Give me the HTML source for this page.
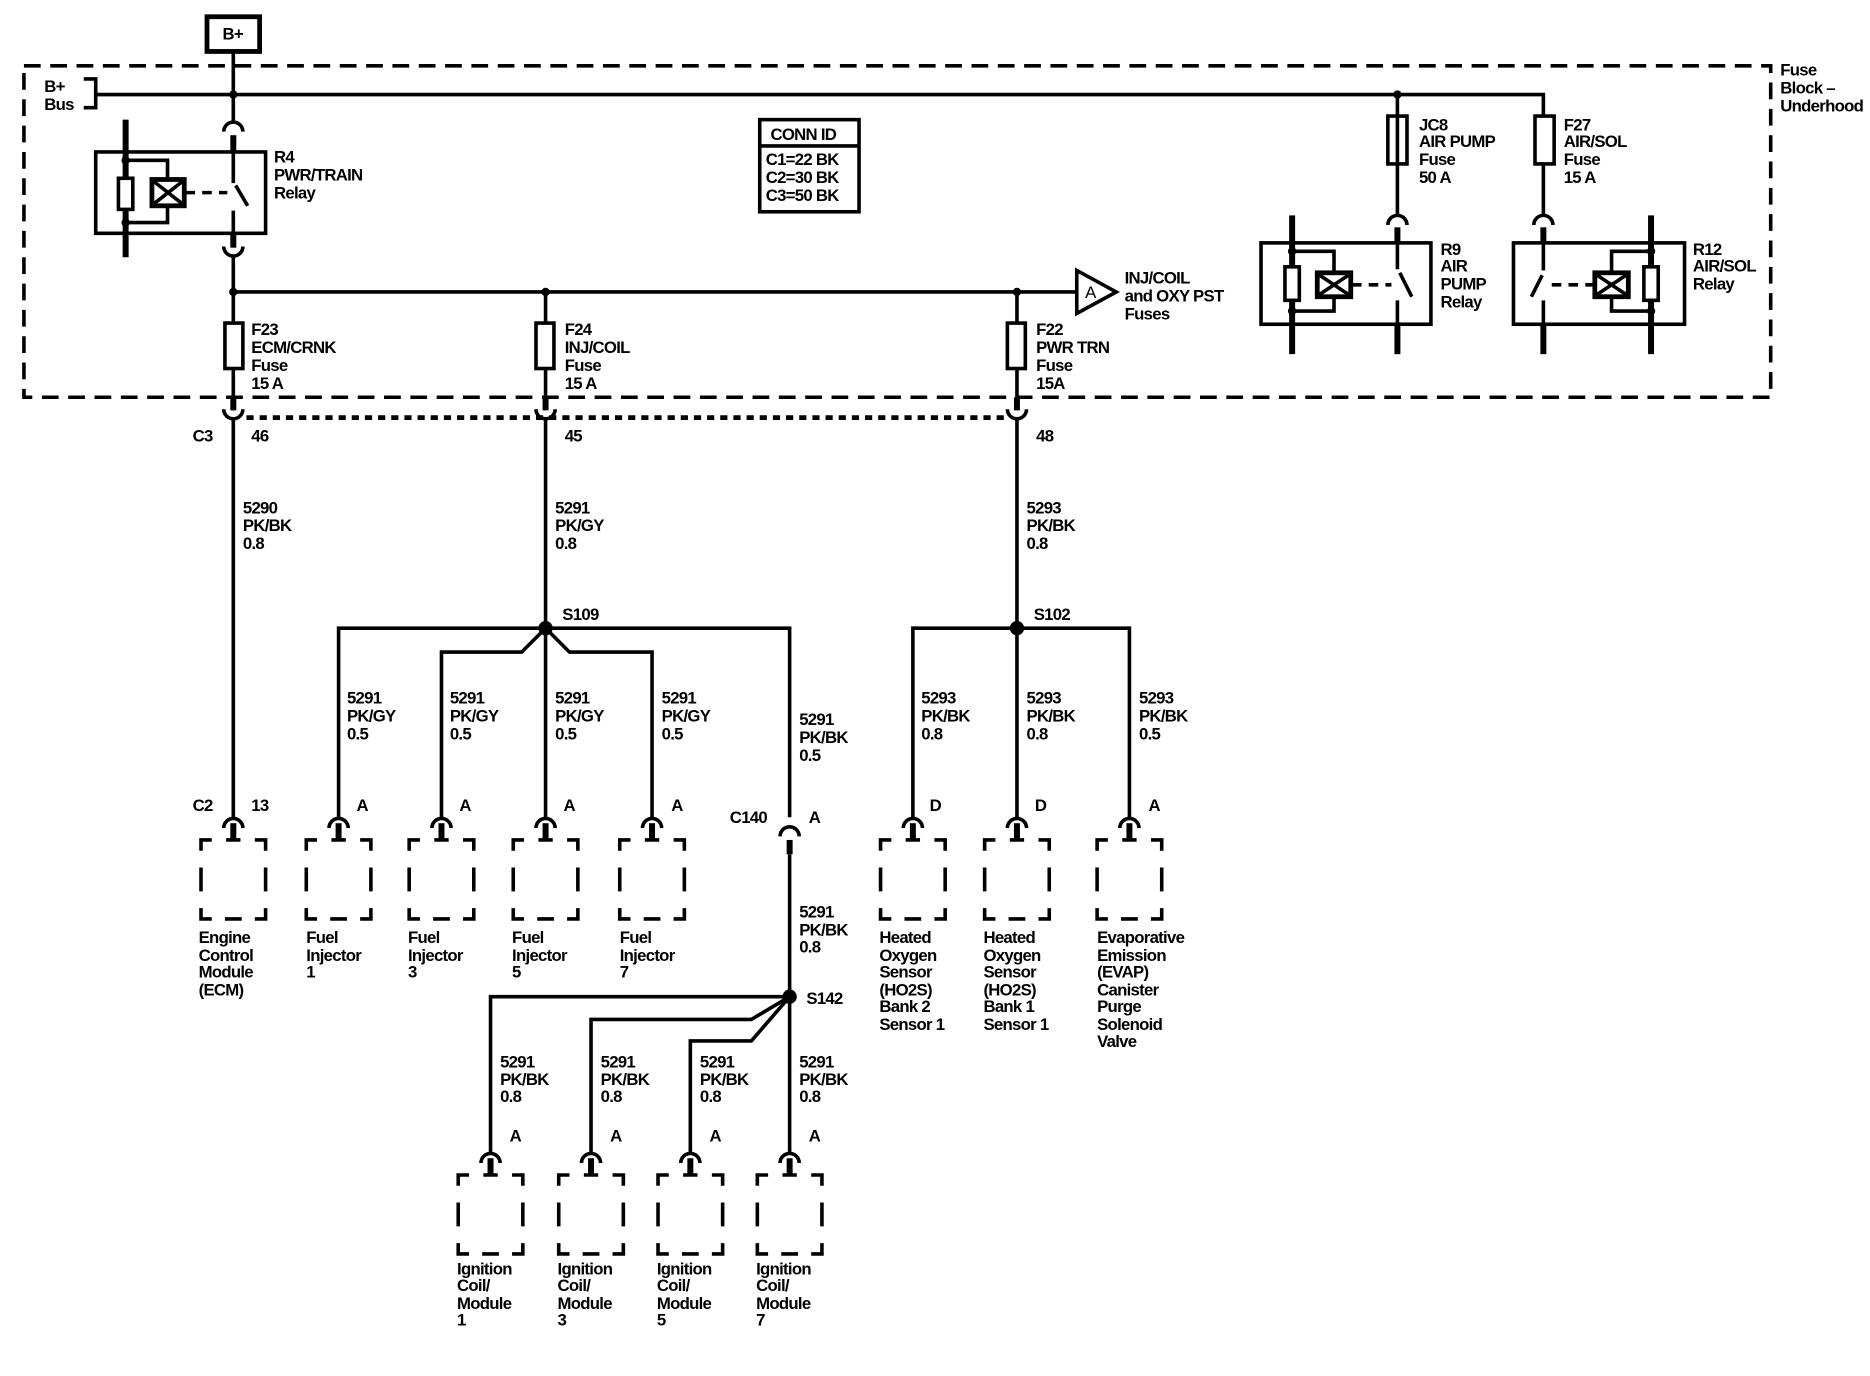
<!DOCTYPE html>
<html><head><meta charset="utf-8"><style>
html,body{margin:0;padding:0;background:#fff;}
svg{display:block;}
text{font-family:"Liberation Sans",Arial,sans-serif;font-size:14px;font-weight:bold;letter-spacing:-0.6px;fill:#000;}
</style></head><body>
<svg width="1870" height="1376" viewBox="0 0 1563 1150" preserveAspectRatio="none" xmlns="http://www.w3.org/2000/svg">
<defs>
<g id="dev">
 <path d="M-8,9 A8,8 0 0 1 8,9" fill="none" stroke="#000" stroke-width="3"/>
 <line x1="0" y1="5" x2="0" y2="19" stroke="#000" stroke-width="5"/>
 <path d="M-27,28 V19 H-18 M-6,19 H6 M18,19 H27 V28 M-27,42 V62 M27,42 V62 M-27,76 V85 H-18 M-7,85 H7 M18,85 H27 V76" fill="none" stroke="#000" stroke-width="3"/>
</g>
<g id="c3">
 <line x1="0" y1="332" x2="0" y2="343" stroke="#000" stroke-width="5"/>
 <path d="M-8,342 A8,8 0 0 0 8,342" fill="none" stroke="#000" stroke-width="3"/>
</g>
</defs>
<g fill="none" stroke="#000" stroke-width="3">
 <!-- fuse block border -->
 <rect x="20" y="55" width="1460" height="277" stroke-dasharray="14 8"/>
 <!-- B+ box -->
 <rect x="173" y="14" width="44" height="29" stroke-width="4"/>
 <!-- bus -->
 <path d="M195,44 V102"/>
 <path d="M80,79 H1290 V97"/>
 <path d="M70,66 H80 V90 H70"/>
 <path d="M1168,79 V180"/>
 <path d="M1290,137 V180"/>
 <rect x="1160" y="97" width="16" height="40"/>
 <rect x="1283" y="97" width="16" height="40"/>
 <!-- R4 -->
 <path d="M187,110 A8,8 0 0 1 203,110"/>
 <line x1="195" y1="113" x2="195" y2="127" stroke-width="5"/>
 <rect x="80" y="127" width="142" height="68"/>
 <line x1="105" y1="100" x2="105" y2="215" stroke-width="5"/>
 <rect x="99" y="149" width="12" height="26" fill="#fff"/>
 <path d="M105,134 H140 V150 M140,172 V186 H105"/>
 <rect x="127" y="150" width="27" height="22" stroke-width="4"/>
 <path d="M129,152 L152,170 M152,152 L129,170"/>
 <path d="M155,161 H190" stroke-dasharray="8 6"/>
 <path d="M195,127 V153 M197,155 L207,172 M195,176 V195"/>
 <line x1="195" y1="195" x2="195" y2="207" stroke-width="5"/>
 <path d="M187,206 A8,8 0 0 0 203,206"/>
 <path d="M195,214 V244 H900"/>
 <path d="M900,226 L933,244 L900,262 Z"/>
 <!-- fuses -->
 <path d="M195,244 V332 M456,244 V332 M850,244 V332"/>
 <rect x="188" y="270" width="15" height="38" fill="#fff"/>
 <rect x="448" y="270" width="15" height="38" fill="#fff"/>
 <rect x="842" y="270" width="15" height="38" fill="#fff"/>
 <!-- CONN ID -->
 <rect x="635" y="100" width="83" height="77" stroke-width="3"/>
 <line x1="635" y1="122" x2="718" y2="122"/>
 <!-- R9 -->
 <path d="M1160,188 A8,8 0 0 1 1176,188"/>
 <line x1="1168" y1="190" x2="1168" y2="203" stroke-width="5"/>
 <rect x="1054" y="203" width="142" height="68"/>
 <line x1="1080" y1="180" x2="1080" y2="296" stroke-width="5"/>
 <rect x="1074" y="223" width="12" height="28" fill="#fff"/>
 <path d="M1080,210 H1115 V228 M1115,248 V260 H1080"/>
 <rect x="1101" y="228" width="28" height="20" stroke-width="4"/>
 <path d="M1103,230 L1127,246 M1127,230 L1103,246"/>
 <path d="M1130,238 H1163" stroke-dasharray="8 6"/>
 <path d="M1168,203 V225 M1170,228 L1180,248 M1168,251 V271"/>
 <line x1="1168" y1="271" x2="1168" y2="296" stroke-width="5"/>
 <!-- R12 -->
 <path d="M1282,188 A8,8 0 0 1 1298,188"/>
 <line x1="1290" y1="190" x2="1290" y2="203" stroke-width="5"/>
 <rect x="1265" y="203" width="143" height="68"/>
 <line x1="1380" y1="180" x2="1380" y2="296" stroke-width="5"/>
 <rect x="1374" y="223" width="12" height="28" fill="#fff"/>
 <path d="M1380,210 H1347 V228 M1347,248 V260 H1380"/>
 <rect x="1333" y="228" width="28" height="20" stroke-width="4"/>
 <path d="M1335,230 L1359,246 M1359,230 L1335,246"/>
 <path d="M1333,238 H1297" stroke-dasharray="8 6"/>
 <path d="M1290,203 V226 M1289,230 L1280,248 M1290,251 V271"/>
 <line x1="1290" y1="271" x2="1290" y2="296" stroke-width="5"/>
 <!-- C3 dotted -->
 <path d="M206,349 H840" stroke-width="4" stroke-dasharray="6 5"/>
 <!-- mains down -->
 <path d="M195,350 V683"/>
 <path d="M456,350 V683"/>
 <path d="M850,350 V683"/>
 <!-- S109 -->
 <path d="M283,683 V525 H660 V683"/>
 <path d="M369,683 V545 H436 L456,525 L476,545 H545 V683"/>
 <!-- S102 -->
 <path d="M763,683 V525 H944 V683"/>
 <!-- C140 -->
 <path d="M652,699 A8,8 0 0 1 668,699"/>
 <line x1="660" y1="702" x2="660" y2="714" stroke-width="5"/>
 <path d="M660,714 V963"/>
 <!-- S142 -->
 <path d="M410,963 V833 H660"/>
 <path d="M494,963 V852 H628 L660,833"/>
 <path d="M577,963 V870 H628 L660,833"/>
</g>
<use href="#c3" x="195"/><use href="#c3" x="456"/><use href="#c3" x="850"/>
<g fill="#000">
 <circle cx="195" cy="79" r="3.5"/><circle cx="1168" cy="79" r="3.5"/>
 <circle cx="195" cy="244" r="3.5"/><circle cx="456" cy="244" r="3.5"/><circle cx="850" cy="244" r="3.5"/>
 <circle cx="105" cy="134" r="3.5"/><circle cx="105" cy="186" r="3.5"/>
 <circle cx="1080" cy="210" r="3.5"/><circle cx="1080" cy="260" r="3.5"/>
 <circle cx="1380" cy="210" r="3.5"/><circle cx="1380" cy="260" r="3.5"/>
 <circle cx="456" cy="525" r="6"/><circle cx="850" cy="525" r="6"/><circle cx="660" cy="833" r="6"/>
</g>
<use href="#dev" x="195" y="683"/><use href="#dev" x="283" y="683"/><use href="#dev" x="369" y="683"/>
<use href="#dev" x="456" y="683"/><use href="#dev" x="545" y="683"/>
<use href="#dev" x="763" y="683"/><use href="#dev" x="850" y="683"/><use href="#dev" x="944" y="683"/>
<use href="#dev" x="410" y="963"/><use href="#dev" x="494" y="963"/><use href="#dev" x="577" y="963"/><use href="#dev" x="660" y="963"/>

<text x="186" y="33">B+</text>
<text x="37" y="77">B+</text><text x="37" y="92">Bus</text>
<text x="229" y="136">R4</text><text x="229" y="151">PWR/TRAIN</text><text x="229" y="166">Relay</text>
<text x="644" y="117">CONN ID</text>
<text x="640" y="138">C1=22 BK</text><text x="640" y="153">C2=30 BK</text><text x="640" y="168">C3=50 BK</text>
<text x="1186" y="109">JC8</text><text x="1186" y="123">AIR PUMP</text><text x="1186" y="138">Fuse</text><text x="1186" y="153">50 A</text>
<text x="1307" y="109">F27</text><text x="1307" y="123">AIR/SOL</text><text x="1307" y="138">Fuse</text><text x="1307" y="153">15 A</text>
<text x="1488" y="63">Fuse</text><text x="1488" y="78">Block –</text><text x="1488" y="93">Underhood</text>
<text x="1204" y="213">R9</text><text x="1204" y="227">AIR</text><text x="1204" y="242">PUMP</text><text x="1204" y="257">Relay</text>
<text x="1415" y="213">R12</text><text x="1415" y="227">AIR/SOL</text><text x="1415" y="242">Relay</text>
<text x="907" y="249" style="font-weight:normal">A</text>
<text x="940" y="237">INJ/COIL</text><text x="940" y="252">and OXY PST</text><text x="940" y="267">Fuses</text>
<text x="210" y="280">F23</text><text x="210" y="295">ECM/CRNK</text><text x="210" y="310">Fuse</text><text x="210" y="325">15 A</text>
<text x="472" y="280">F24</text><text x="472" y="295">INJ/COIL</text><text x="472" y="310">Fuse</text><text x="472" y="325">15 A</text>
<text x="866" y="280">F22</text><text x="866" y="295">PWR TRN</text><text x="866" y="310">Fuse</text><text x="866" y="325">15A</text>
<text x="161" y="369">C3</text><text x="210" y="369">46</text><text x="472" y="369">45</text><text x="866" y="369">48</text>
<text x="203" y="429">5290</text><text x="203" y="444">PK/BK</text><text x="203" y="459">0.8</text>
<text x="464" y="429">5291</text><text x="464" y="444">PK/GY</text><text x="464" y="459">0.8</text>
<text x="858" y="429">5293</text><text x="858" y="444">PK/BK</text><text x="858" y="459">0.8</text>
<text x="470" y="518">S109</text><text x="864" y="518">S102</text>
<text x="290" y="588">5291</text><text x="290" y="603">PK/GY</text><text x="290" y="618">0.5</text>
<text x="376" y="588">5291</text><text x="376" y="603">PK/GY</text><text x="376" y="618">0.5</text>
<text x="464" y="588">5291</text><text x="464" y="603">PK/GY</text><text x="464" y="618">0.5</text>
<text x="553" y="588">5291</text><text x="553" y="603">PK/GY</text><text x="553" y="618">0.5</text>
<text x="668" y="606">5291</text><text x="668" y="621">PK/BK</text><text x="668" y="636">0.5</text>
<text x="770" y="588">5293</text><text x="770" y="603">PK/BK</text><text x="770" y="618">0.8</text>
<text x="858" y="588">5293</text><text x="858" y="603">PK/BK</text><text x="858" y="618">0.8</text>
<text x="952" y="588">5293</text><text x="952" y="603">PK/BK</text><text x="952" y="618">0.5</text>
<text x="161" y="678">C2</text><text x="210" y="678">13</text>
<text x="298" y="678">A</text><text x="384" y="678">A</text><text x="471" y="678">A</text><text x="561" y="678">A</text>
<text x="610" y="688">C140</text><text x="676" y="688">A</text>
<text x="777" y="678">D</text><text x="865" y="678">D</text><text x="960" y="678">A</text>
<text x="166" y="788">Engine</text><text x="166" y="803">Control</text><text x="166" y="817">Module</text><text x="166" y="832">(ECM)</text>
<text x="256" y="788">Fuel</text><text x="256" y="803">Injector</text><text x="256" y="817">1</text>
<text x="341" y="788">Fuel</text><text x="341" y="803">Injector</text><text x="341" y="817">3</text>
<text x="428" y="788">Fuel</text><text x="428" y="803">Injector</text><text x="428" y="817">5</text>
<text x="518" y="788">Fuel</text><text x="518" y="803">Injector</text><text x="518" y="817">7</text>
<text x="735" y="788">Heated</text><text x="735" y="803">Oxygen</text><text x="735" y="817">Sensor</text><text x="735" y="832">(HO2S)</text><text x="735" y="846">Bank 2</text><text x="735" y="861">Sensor 1</text>
<text x="822" y="788">Heated</text><text x="822" y="803">Oxygen</text><text x="822" y="817">Sensor</text><text x="822" y="832">(HO2S)</text><text x="822" y="846">Bank 1</text><text x="822" y="861">Sensor 1</text>
<text x="917" y="788">Evaporative</text><text x="917" y="803">Emission</text><text x="917" y="817">(EVAP)</text><text x="917" y="832">Canister</text><text x="917" y="846">Purge</text><text x="917" y="861">Solenoid</text><text x="917" y="875">Valve</text>
<text x="668" y="767">5291</text><text x="668" y="782">PK/BK</text><text x="668" y="796">0.8</text>
<text x="674" y="839">S142</text>
<text x="418" y="892">5291</text><text x="418" y="907">PK/BK</text><text x="418" y="921">0.8</text>
<text x="502" y="892">5291</text><text x="502" y="907">PK/BK</text><text x="502" y="921">0.8</text>
<text x="585" y="892">5291</text><text x="585" y="907">PK/BK</text><text x="585" y="921">0.8</text>
<text x="668" y="892">5291</text><text x="668" y="907">PK/BK</text><text x="668" y="921">0.8</text>
<text x="426" y="954">A</text><text x="510" y="954">A</text><text x="593" y="954">A</text><text x="676" y="954">A</text>
<text x="382" y="1065">Ignition</text><text x="382" y="1079">Coil/</text><text x="382" y="1094">Module</text><text x="382" y="1108">1</text>
<text x="466" y="1065">Ignition</text><text x="466" y="1079">Coil/</text><text x="466" y="1094">Module</text><text x="466" y="1108">3</text>
<text x="549" y="1065">Ignition</text><text x="549" y="1079">Coil/</text><text x="549" y="1094">Module</text><text x="549" y="1108">5</text>
<text x="632" y="1065">Ignition</text><text x="632" y="1079">Coil/</text><text x="632" y="1094">Module</text><text x="632" y="1108">7</text>
</svg>
</body></html>
